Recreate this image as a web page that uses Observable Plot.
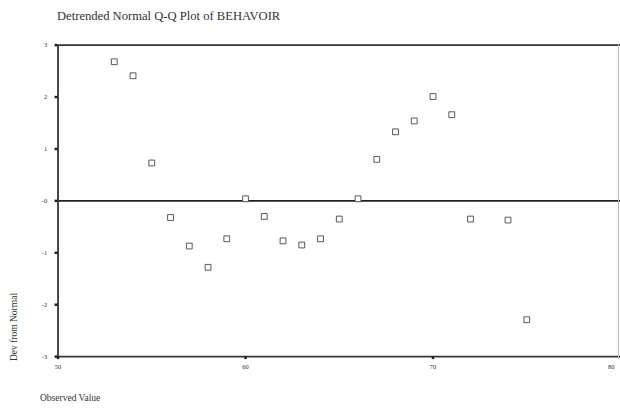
<!DOCTYPE html>
<html>
<head>
<meta charset="utf-8">
<script src="https://cdn.jsdelivr.net/npm/d3@7"></script>
<script src="https://cdn.jsdelivr.net/npm/@observablehq/plot@0.6"></script>
<style>
  html, body { margin: 0; padding: 0; overflow: hidden; background: #fff; width: 620px; height: 410px; }
  #wrap { position: relative; width: 620px; height: 410px; overflow: hidden; }
  .t { position: absolute; font-family: "Liberation Serif", "DejaVu Serif", serif; color: #333; white-space: nowrap; }
  #title { left: 57px; top: 9px; font-size: 12.6px; }
  #ylab { left: 14px; top: 327px; font-size: 9.5px; transform: translate(-50%, -50%) rotate(-90deg); }
  #xlab { left: 40px; top: 393px; font-size: 9.5px; }
  #chart { position: absolute; left: 0; top: 0; }
  #rightedge { position: absolute; left: 618px; top: 45px; height: 314px; border-left: 1px solid #bdbdbd; }
</style>
</head>
<body>
<div id="wrap">
  <div id="chart"></div>
  <div id="rightedge"></div>
  <div class="t" id="title">Detrended Normal Q-Q Plot of BEHAVOIR</div>
  <div class="t" id="ylab">Dev from Normal</div>
  <div class="t" id="xlab">Observed Value</div>
</div>
<script>
const observed      = [53, 54, 55, 56, 57, 58, 59, 60, 61, 62, 63, 64, 65, 66, 67, 68, 69, 70, 71, 72, 74, 75];
const devFromNormal = [2.68, 2.41, 0.73, -0.32, -0.87, -1.28, -0.73, 0.04, -0.30, -0.77, -0.85, -0.73, -0.35, 0.04, 0.80, 1.33, 1.54, 2.01, 1.66, -0.35, -0.37, -2.29];
const xTicks = [50, 60, 70, 80];
const yTicks = [-3, -2, -1, 0, 1, 2, 3];
const yTickLabels = ["-3", "-2", "-1", "-0", "1", "2", "3"];

const points = observed.map((x, i) => ({x, y: devFromNormal[i]}));
const lastTick = xTicks[xTicks.length - 1];

const plot = Plot.plot({
  width: 625,
  height: 410,
  marginLeft: 58,
  marginRight: 0,
  marginTop: 45,
  marginBottom: 51,
  style: {fontFamily: "Liberation Serif, serif", fontSize: "6.5px", color: "#333", background: "transparent"},
  x: {domain: [50, 80], ticks: xTicks, label: null},
  y: {domain: [-3, 3], ticks: yTicks, label: null},
  marks: [
    Plot.ruleY([3, -3], {stroke: "#333", strokeWidth: 1.8}),
    Plot.ruleY([0], {stroke: "#222", strokeWidth: 2}),
    Plot.ruleX([50], {stroke: "#333", strokeWidth: 1.8}),
    Plot.axisY({ticks: yTicks, tickSize: 3, tickPadding: 8, strokeWidth: 2.5, stroke: "#222",
      tickFormat: d => yTickLabels[yTicks.indexOf(d)], fontSize: 6.5, fill: "#333"}),
    Plot.axisX({ticks: xTicks.slice(0, -1), tickSize: 3, tickPadding: 5, strokeWidth: 2.5, stroke: "#222",
      tickFormat: d => String(d), fontSize: 6.5, fill: "#333"}),
    Plot.axisX({ticks: [lastTick], tickSize: 0, tickPadding: 8, textAnchor: "end", dx: -6,
      tickFormat: d => String(d), fontSize: 6.5, fill: "#333"}),
    Plot.dot(points, {x: "x", y: "y", symbol: "square", r: 3.3, stroke: "#444", strokeWidth: 0.9, fill: "white"})
  ]
});
document.getElementById("chart").appendChild(plot);
</script>
</body>
</html>
